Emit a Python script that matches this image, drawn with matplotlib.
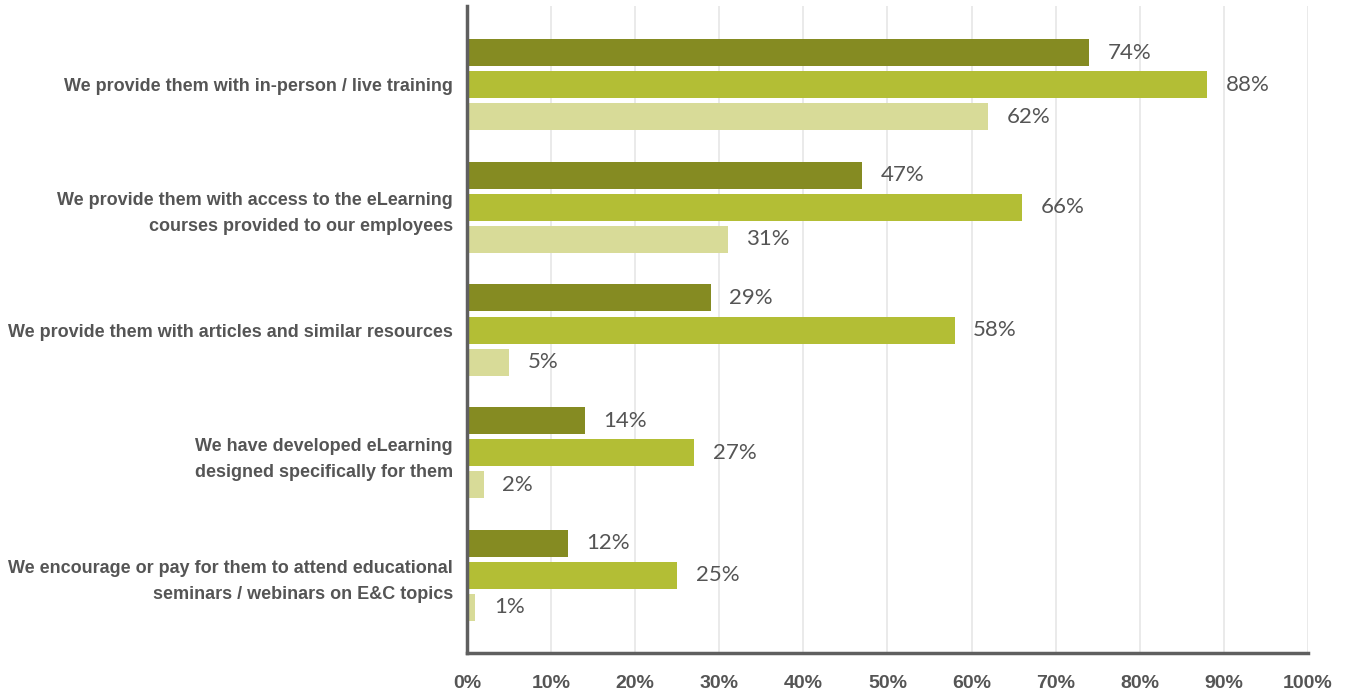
import numpy as np
import matplotlib.pyplot as plt

categories = [
    "We provide them with in-person / live training",
    "We provide them with access to the eLearning\ncourses provided to our employees",
    "We provide them with articles and similar resources",
    "We have developed eLearning\ndesigned specifically for them",
    "We encourage or pay for them to attend educational\nseminars / webinars on E&C topics",
]
series_a = [74, 47, 29, 14, 12]
series_b = [88, 66, 58, 27, 25]
series_c = [62, 31, 5, 2, 1]
x_ticks = [0, 10, 20, 30, 40, 50, 60, 70, 80, 90, 100]

colors = ["#858B22", "#B3BE35", "#D8DB98"]
text_gray = "#555555"
label_font = ["Liberation Sans", "DejaVu Sans"]

fig = plt.figure(figsize=(13.45, 6.93), dpi=100)
ax = fig.add_axes([0.3472, 0.0577, 0.6253, 0.9336])

y = np.arange(len(categories))
step = 0.261
height = 0.22
for i, (vals, col) in enumerate(zip([series_a, series_b, series_c], colors)):
    pos = y + (i - 1) * step
    ax.barh(pos, vals, height=height, color=col, zorder=3)
    for p, v in zip(pos, vals):
        ax.text(v + 2.2, p, f"{v}%", va="center", ha="left", fontsize=16,
                color=text_gray, family=["Lato", "DejaVu Sans"])

ax.set_xlim(0, 100)
ax.set_ylim(4.632, -0.64)
ax.set_xticks(x_ticks)
ax.set_xticklabels([f"{t}%" for t in x_ticks], fontsize=14, fontweight="bold",
                   color=text_gray, family=label_font)
ax.set_yticks(y)
ax.set_yticklabels(categories, fontsize=13, fontweight="bold", color=text_gray,
                   family=label_font, linespacing=1.68)
ax.tick_params(axis="both", length=0)
ax.tick_params(axis="y", pad=10)
ax.tick_params(axis="x", pad=16)

ax.grid(axis="x", color="#E6E6E6", linewidth=1.2, zorder=0)
for side in ["top", "right"]:
    ax.spines[side].set_visible(False)
for side in ["left", "bottom"]:
    ax.spines[side].set_color("#5F5F5F")
    ax.spines[side].set_linewidth(2.5)
    ax.spines[side].set_zorder(4)

fig.savefig("out.png", dpi=100)
